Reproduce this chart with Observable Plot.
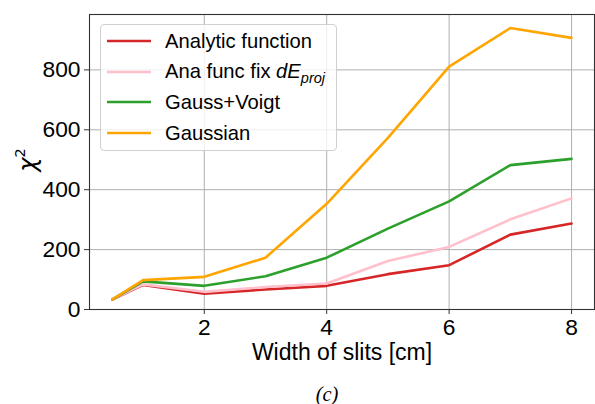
<!DOCTYPE html>
<html>
<head>
<meta charset="utf-8">
<script src="https://cdn.jsdelivr.net/npm/d3@7"></script>
<script src="https://cdn.jsdelivr.net/npm/@observablehq/plot@0.6"></script>
<style>
  html, body { margin: 0; padding: 0; background: #fff; }
  #wrap { position: relative; width: 595px; height: 404px; font-family: "Liberation Sans", Arial, sans-serif; }
  #legend {
    position: absolute; left: 100px; top: 24px; width: 237px; height: 127px;
    background: rgba(255,255,255,0.8); border: 1px solid #d0d0d0; border-radius: 4px;
    box-sizing: border-box;
  }
  .row { position: absolute; left: 0; height: 24px; display: flex; align-items: center; font-size: 20.2px; color: #000; white-space: nowrap; }
  .row svg { margin-left: 6px; margin-right: 14px; }
  sub { font-size: 0.72em; vertical-align: -0.32em; line-height: 0; }
  #ylabel {
    position: absolute; left: 28px; top: 160px;
    transform: translate(-50%, -50%) rotate(-90deg);
    font-family: "DejaVu Sans", sans-serif; font-size: 24px; font-style: italic;
    white-space: nowrap; line-height: 1; color: #000;
  }
  #ylabel sup { font-style: normal; font-size: 0.6em; vertical-align: 0.75em; line-height: 0; }
</style>
</head>
<body>
<div id="wrap"></div>
<script>
// Slit widths (cm)
const widths = [0.5, 1, 2, 3, 4, 5, 6, 7, 8];

// χ² for each fit model
const analytic   = [33, 82, 53, 67, 79, 118, 148, 250, 287];
const anaFixDE   = [34, 84, 59, 75, 87, 162, 209, 301, 371];
const gaussVoigt = [34, 94, 79, 111, 173, 270, 361, 482, 503];
const gaussian   = [34, 98, 109, 173, 353, 573, 811, 940, 907];

const seriesNames  = ["Analytic function", "Ana func fix dE_proj", "Gauss+Voigt", "Gaussian"];
const seriesLabels = ["Analytic function", "Ana func fix <i>dE</i><sub><i>proj</i></sub>", "Gauss+Voigt", "Gaussian"];
const seriesColors = ["#d62728", "pink", "#2ca02c", "orange"];
const seriesValues = [analytic, anaFixDE, gaussVoigt, gaussian];

const xTicks = [2, 4, 6, 8];
const yTicks = [0, 200, 400, 600, 800];

const rows = seriesValues.flatMap((vals, i) =>
  vals.map((v, j) => ({series: seriesNames[i], width: widths[j], chi2: v}))
);

const font = '"Liberation Sans", Arial, sans-serif';
const tickFont = 22.8;

const chart = Plot.plot({
  width: 595,
  height: 404,
  marginLeft: 89,
  marginRight: 1,
  marginTop: 14,
  marginBottom: 95,
  style: {fontFamily: font, fontSize: tickFont + "px", color: "#000", background: "#fff"},
  x: {domain: [0.125, 8.375], ticks: xTicks, label: null},
  y: {domain: [0, 985], ticks: yTicks, label: null},
  color: {domain: seriesNames, range: seriesColors},
  marks: [
    Plot.gridX(xTicks, {stroke: "#b0b0b0", strokeOpacity: 1, strokeWidth: 1}),
    Plot.gridY(yTicks, {stroke: "#b0b0b0", strokeOpacity: 1, strokeWidth: 1}),
    Plot.axisX(xTicks, {tickSize: 5, tickPadding: 4, stroke: "#333", fontSize: tickFont}),
    Plot.axisY(yTicks, {tickSize: 5, tickPadding: 4, stroke: "#333", fontSize: tickFont}),
    ...seriesNames.map(name =>
      Plot.line(rows.filter(d => d.series === name), {
        x: "width", y: "chi2", stroke: "series", strokeWidth: 2.6, strokeLinejoin: "miter"
      })
    ),
    Plot.frame({stroke: "#333", strokeWidth: 1.1}),
    Plot.text(["Width of slits [cm]"], {frameAnchor: "bottom", dy: 43, lineAnchor: "middle", fontSize: 23, fill: "#000"}),
    Plot.text(["(c)"], {frameAnchor: "bottom", dx: -15, dy: 85, lineAnchor: "middle", fontSize: 20.5, fontStyle: "italic", fontFamily: '"Liberation Serif", "Times New Roman", serif', fill: "#000"})
  ]
});

const wrap = document.getElementById("wrap");
wrap.appendChild(chart);

// y-axis title: χ²
const ylabel = document.createElement("div");
ylabel.id = "ylabel";
ylabel.innerHTML = "χ<sup>2</sup>";
wrap.appendChild(ylabel);

// Legend box
const legend = document.createElement("div");
legend.id = "legend";
seriesNames.forEach((name, i) => {
  const row = document.createElement("div");
  row.className = "row";
  row.style.top = (4 + i * 30.7) + "px";
  row.innerHTML =
    `<svg width="44" height="6"><line x1="0" x2="44" y1="3" y2="3" stroke="${seriesColors[i]}" stroke-width="2.6"/></svg>` +
    `<span>${seriesLabels[i]}</span>`;
  legend.appendChild(row);
});
wrap.appendChild(legend);
</script>
</body>
</html>
